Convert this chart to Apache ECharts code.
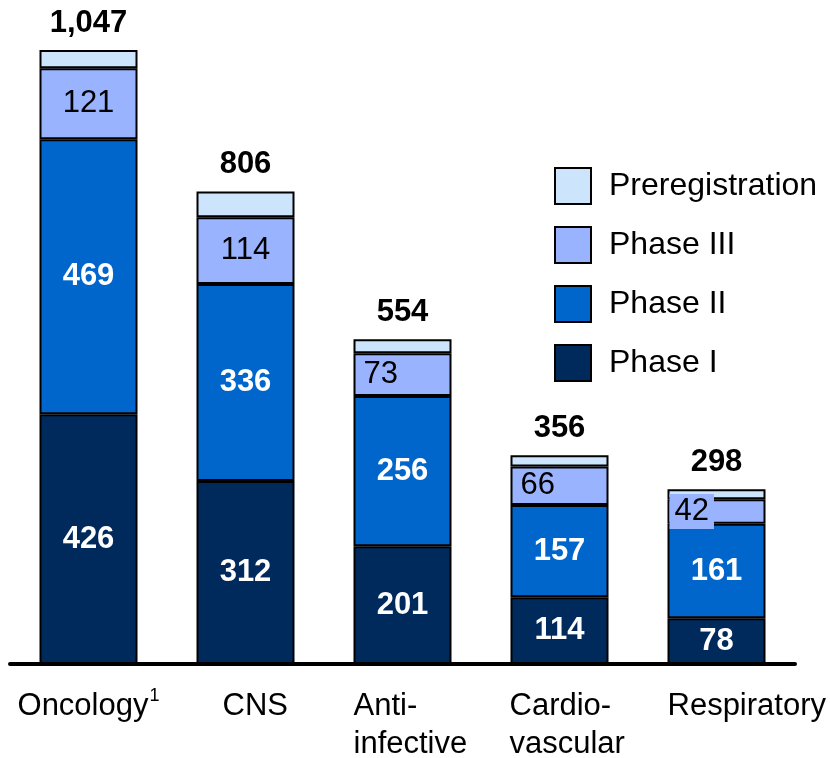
<!DOCTYPE html>
<html>
<head>
<meta charset="utf-8">
<script src="https://cdn.jsdelivr.net/npm/echarts@6/dist/echarts.min.js"></script>
<style>html,body{margin:0;padding:0;background:#fff}#c{width:830px;height:758px}</style>
</head>
<body>
<div id="c"></div>
<script>
const categories = ['Oncology', 'CNS', 'Anti-\ninfective', 'Cardio-\nvascular', 'Respiratory'];
const categoryNotes = ['1', '', '', '', ''];
const phase1 = [426, 312, 201, 114, 78];
const phase2 = [469, 336, 256, 157, 161];
const phase3 = [121, 114, 73, 66, 42];
const prereg = [31, 44, 24, 19, 17];
const totals = [1047, 806, 554, 356, 298];

const colors = { p1: '#002a5c', p2: '#0066cc', p3: '#99b3ff', pre: '#cce4fc' };
const FONT = 'Liberation Sans, Arial, sans-serif';
// label block widths so text starts near the bar's left edge (layout only)
const catBlockW = [null, 46, 98, 100, 98];

const chart = echarts.init(document.getElementById('c'));
const border = { borderColor: '#000', borderWidth: 2 };

function p3Data() {
  return phase3.map((v, i) => {
    if (i < 2) return v;
    const lab = { position: 'insideLeft', distance: 10 };
    if (i === 4) {
      Object.assign(lab, { distance: 2, backgroundColor: colors.p3, padding: [3, 5, 1, 5] });
    }
    return { value: v, label: lab };
  });
}

const rich = {};
catBlockW.forEach((w, i) => {
  const st = { fontSize: 31, fontFamily: FONT, color: '#000', lineHeight: 38 };
  if (w) { st.width = w; st.align = 'left'; }
  rich['c' + i] = st;
});
rich.sup = { fontSize: 18, fontFamily: FONT, color: '#000', verticalAlign: 'top', lineHeight: 38, padding: [0, 0, 11, 1] };

chart.setOption({
  animation: false,
  grid: { left: 10, right: 35, top: 19, bottom: 94, containLabel: false, outerBoundsMode: 'none' },
  legend: {
    data: ['Preregistration', 'Phase III', 'Phase II', 'Phase I'],
    orient: 'vertical',
    left: 549, top: 162,
    itemWidth: 36, itemHeight: 36, itemGap: 21,
    icon: 'rect',
    textStyle: { fontSize: 32, fontFamily: FONT, color: '#000', padding: [0, 0, 0, 13], lineHeight: 36 }
  },
  xAxis: {
    type: 'category',
    data: categories,
    axisLine: { lineStyle: { color: '#000', width: 4 } },
    axisTick: { show: false },
    axisLabel: {
      margin: 23,
      interval: 0,
      formatter: (v, i) => {
        const lines = v.split('\n');
        return lines.map((s, k) => {
          const note = (k === lines.length - 1 && categoryNotes[i]) ? '{sup|' + categoryNotes[i] + '}' : '';
          return '{c' + i + '|' + s + '}' + note;
        }).join('\n');
      },
      rich: rich
    }
  },
  yAxis: { type: 'value', min: 0, max: 1100, show: false, splitLine: { show: false } },
  series: [
    {
      name: 'Phase I', type: 'bar', stack: 's', barWidth: 98, data: phase1,
      itemStyle: Object.assign({ color: colors.p1 }, border),
      label: { show: true, position: 'inside', color: '#fff', fontWeight: 'bold', fontSize: 31, fontFamily: FONT }
    },
    {
      name: 'Phase II', type: 'bar', stack: 's', barWidth: 98, data: phase2,
      itemStyle: Object.assign({ color: colors.p2 }, border),
      label: { show: true, position: 'inside', color: '#fff', fontWeight: 'bold', fontSize: 31, fontFamily: FONT }
    },
    {
      name: 'Phase III', type: 'bar', stack: 's', barWidth: 98, data: p3Data(),
      itemStyle: Object.assign({ color: colors.p3 }, border),
      label: { show: true, position: 'inside', color: '#000', fontSize: 31, fontFamily: FONT }
    },
    {
      name: 'Preregistration', type: 'bar', stack: 's', barWidth: 98, data: prereg,
      itemStyle: Object.assign({ color: colors.pre }, border),
      label: {
        show: true, position: 'top', distance: 11, color: '#000', fontWeight: 'bold', fontSize: 31, fontFamily: FONT,
        formatter: p => totals[p.dataIndex].toLocaleString('en-US')
      }
    }
  ]
});
</script>
</body>
</html>
